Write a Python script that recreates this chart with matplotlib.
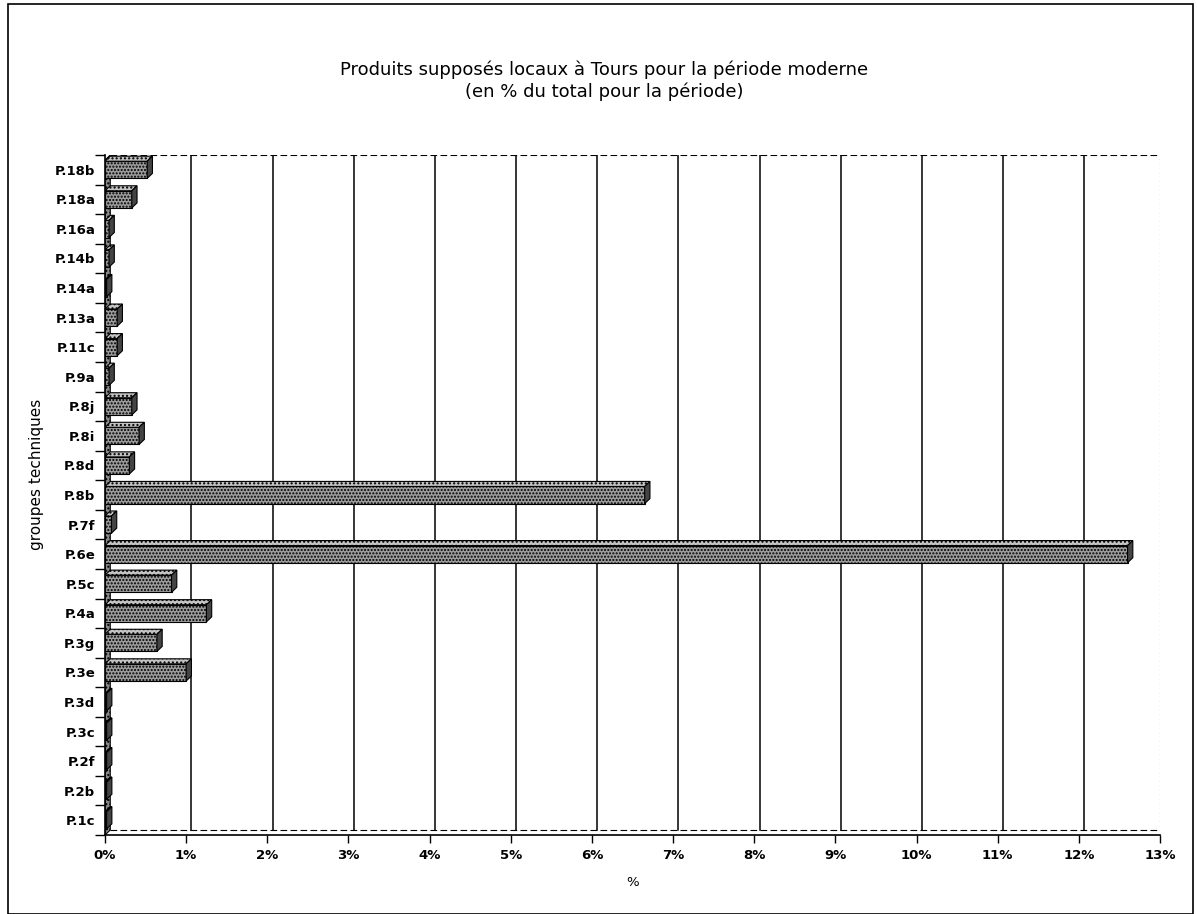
import numpy as np
import matplotlib.pyplot as plt
from matplotlib.patches import Polygon, Rectangle

# groupes techniques (de bas en haut) et part en % du total pour la période
groupes = ['P.1c', 'P.2b', 'P.2f', 'P.3c', 'P.3d', 'P.3e', 'P.3g', 'P.4a',
           'P.5c', 'P.6e', 'P.7f', 'P.8b', 'P.8d', 'P.8i', 'P.8j', 'P.9a',
           'P.11c', 'P.13a', 'P.14a', 'P.14b', 'P.16a', 'P.18a', 'P.18b']
pourcent = [0.02, 0.02, 0.02, 0.02, 0.02, 1.0, 0.64, 1.25,
            0.82, 12.6, 0.08, 6.65, 0.3, 0.42, 0.33, 0.05,
            0.15, 0.15, 0.02, 0.05, 0.05, 0.33, 0.52]
xticks = list(range(0, 14))
xlabels = [f'{v}%' for v in xticks]

fig = plt.figure(figsize=(11.97, 9.14), dpi=100)
ax = fig.add_axes([0.0877, 0.0864, 0.8814, 0.744])

n = len(groupes)
ax.set_xlim(0, 13)
ax.set_ylim(-0.5, n - 0.5)

# décalage de profondeur (effet 3D) en unités de données
ddx = 0.065
ddy = 0.17
h = 0.58

# quadrillage du fond
for v in xticks[1:-1]:
    ax.plot([v + ddx, v + ddx], [-0.5 + ddy, n - 0.5], color='black', lw=1.1, zorder=1)
ax.plot([ddx, 13], [n - 0.5, n - 0.5], color='black', lw=0.8, ls=(0, (6, 3)), zorder=1)
ax.plot([13, 13], [-0.5, n - 0.5], color='black', lw=0.8, ls=(0, (1, 3)), zorder=1)
ax.plot([ddx, 13], [-0.5 + ddy, -0.5 + ddy], color='black', lw=0.8, ls=(0, (6, 3)), zorder=1)

# mur gauche
ax.add_patch(Polygon([(0, -0.5), (ddx, -0.5 + ddy), (ddx, n - 0.5), (0, n - 0.5 - ddy)],
                     closed=True, facecolor='#8a8a8a', edgecolor='black', lw=0.8,
                     hatch='....', zorder=2))

for i, val in enumerate(pourcent):
    y0, y1 = i - h / 2, i + h / 2
    # face avant
    ax.add_patch(Rectangle((0, y0), val, h, facecolor='#9c9c9c', edgecolor='black',
                           lw=0.8, hatch='.....', zorder=3))
    # dessus
    ax.add_patch(Polygon([(0, y1), (ddx, y1 + ddy), (val + ddx, y1 + ddy), (val, y1)],
                         closed=True, facecolor='#c4c4c4', edgecolor='black', lw=0.8,
                         hatch='....', zorder=3))
    # côté
    ax.add_patch(Polygon([(val, y0), (val + ddx, y0 + ddy), (val + ddx, y1 + ddy), (val, y1)],
                         closed=True, facecolor='#444444', edgecolor='black', lw=0.8,
                         zorder=3))

ax.set_yticks(range(n))
ax.set_yticklabels(groupes, fontsize=9.5, fontweight='semibold')
ax.set_yticks(np.arange(-0.5, n, 1), minor=True)
ax.tick_params(axis='y', which='major', length=0, pad=7)
ax.tick_params(axis='y', which='minor', length=7, width=1, direction='out')
ax.set_xticks(xticks)
ax.set_xticklabels(xlabels, fontsize=9.5, fontweight='semibold')
ax.tick_params(axis='x', length=6, width=1, direction='out', pad=4)

for s in ['top', 'right']:
    ax.spines[s].set_visible(False)
ax.spines['left'].set_linewidth(1.2)
ax.spines['bottom'].set_linewidth(1.2)

ax.set_xlabel('%', fontsize=9.5, labelpad=10)
ax.set_ylabel('groupes techniques', fontsize=11)
ax.yaxis.set_label_coords(-0.058, 0.53)

fig.text(0.505, 0.912, 'Produits supposés locaux à Tours pour la période moderne\n'
         '(en % du total pour la période)', ha='center', va='center',
         fontsize=13, linespacing=1.25)

# cadre extérieur
fig.patches.append(Rectangle((0.007, 0.0), 0.99, 0.996, transform=fig.transFigure,
                             fill=False, edgecolor='black', lw=1.2))

fig.savefig('out.png', dpi=100)
